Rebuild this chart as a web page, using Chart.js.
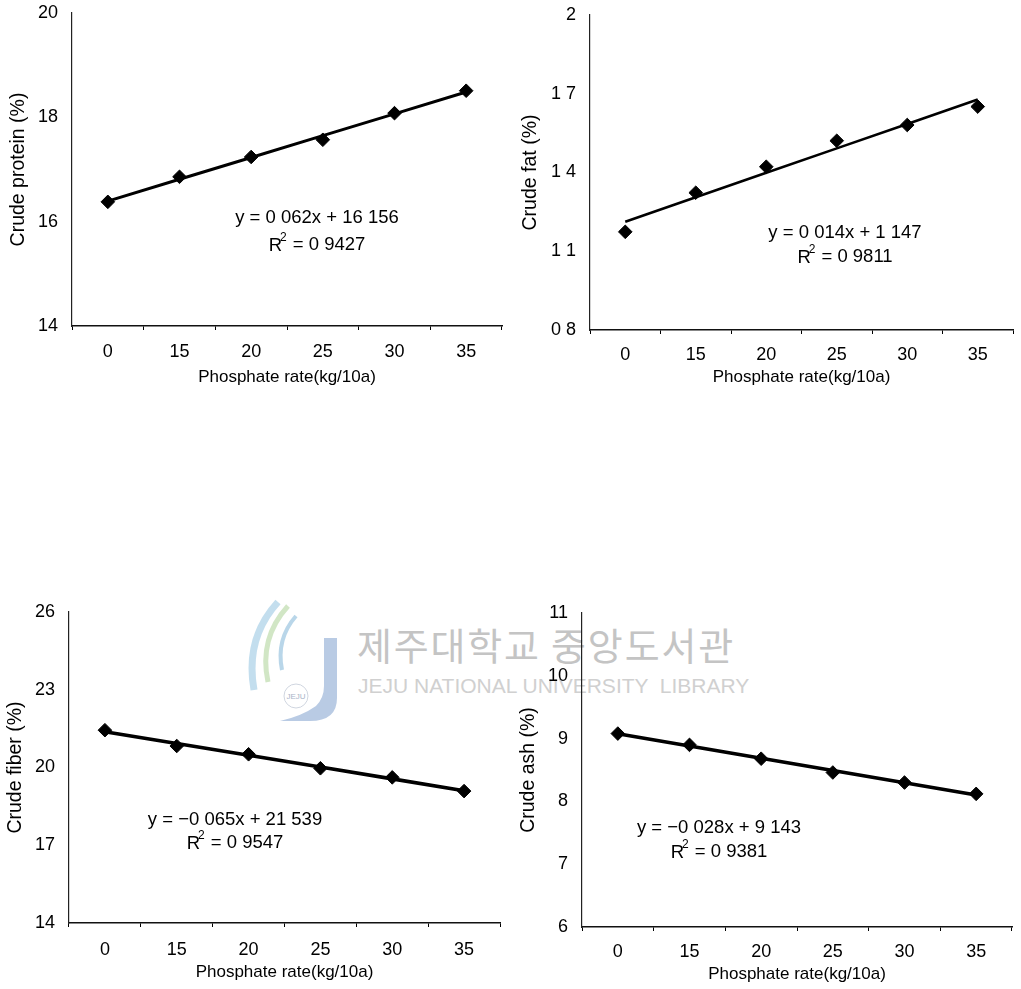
<!DOCTYPE html>
<html>
<head>
<meta charset="utf-8">
<script src="https://cdn.jsdelivr.net/npm/chart.js@4.4.0/dist/chart.umd.min.js"></script>
<style>
  body { margin: 0; background: #fff; width: 1021px; height: 989px; position: relative; overflow: hidden; }
  .panel { position: absolute; z-index: 2; }
  .wm-ko { position: absolute; left: 357px; top: 625px; font-family: "Noto Sans CJK KR", sans-serif; font-size: 38px; line-height: 38px; color: #c4c4c4; letter-spacing: 1.8px; white-space: nowrap; z-index: 1; }
  .wm-en { position: absolute; left: 358px; top: 674px; font-family: "Liberation Sans", Arial, sans-serif; font-size: 21px; line-height: 24px; color: #d0d0d0; white-space: pre; z-index: 1; }
  .wm-logo { position: absolute; left: 240px; top: 598px; z-index: 1; }
</style>
</head>
<body>

<svg class="wm-logo" width="100" height="125">
  <path d="M38 4 C 16 28, 8 58, 14 92" stroke="#b4d6ea" stroke-width="7" fill="none" opacity="0.8"/>
  <path d="M48 8 C 28 30, 22 56, 28 84" stroke="#c6e0b6" stroke-width="5" fill="none" opacity="0.8"/>
  <path d="M56 18 C 42 34, 38 52, 42 72" stroke="#a8cce4" stroke-width="4" fill="none" opacity="0.8"/>
  <path d="M84 40 L 97 40 L 97 100 Q 97 123 70 123 L 40 123 Q 62 118 76 108 Q 84 100 84 88 Z" fill="#b9cbe4"/>
  <circle cx="56" cy="98" r="12" fill="none" stroke="#d0d6e0" stroke-width="1"/>
  <text x="56" y="101" font-size="8" font-family="Liberation Sans" fill="#a9b4c8" text-anchor="middle">JEJU</text>
</svg>
<div class="wm-ko">제주대학교 중앙도서관</div>
<div class="wm-en">JEJU NATIONAL UNIVERSITY  LIBRARY</div>

<canvas id="c1" class="panel" style="left:0px;top:0px" width="510" height="400"></canvas>
<canvas id="c2" class="panel" style="left:510px;top:0px" width="511" height="400"></canvas>
<canvas id="c3" class="panel" style="left:0px;top:590px" width="510" height="399"></canvas>
<canvas id="c4" class="panel" style="left:510px;top:590px" width="511" height="399"></canvas>

<script>
// phosphate rates (kg/10a)
const rates = ['0', '15', '20', '25', '30', '35'];

// values
const proteinValues = [16.38, 16.86, 17.24, 17.57, 18.08, 18.51];
const fatValues = [1.174, 1.323, 1.422, 1.521, 1.581, 1.651];
const fiberValues = [21.44, 20.83, 20.51, 19.97, 19.62, 19.09];
const ashValues = [9.08, 8.90, 8.68, 8.46, 8.30, 8.12];

// y ticks and how they are printed in the figure
const proteinTicks = [14, 16, 18, 20];
const proteinTickLabels = ['14', '16', '18', '20'];
const fatTicks = [0.8, 1.1, 1.4, 1.7, 2.0];
const fatTickLabels = ['0 8', '1 1', '1 4', '1 7', '2'];
const fiberTicks = [14, 17, 20, 23, 26];
const fiberTickLabels = ['14', '17', '20', '23', '26'];
const ashTicks = [6, 7, 8, 9, 10, 11];
const ashTickLabels = ['6', '7', '8', '9', '10', '11'];

// trendline labels
const proteinEq = ['y = 0 062x + 16 156', '= 0 9427'];
const fatEq = ['y = 0 014x + 1 147', '= 0 9811'];
const fiberEq = ['y = \u22120 065x + 21 539', '= 0 9547'];
const ashEq = ['y = \u22120 028x + 9 143', '= 0 9381'];

const FONT = '"Liberation Sans", Arial, sans-serif';

// least squares line through the points (index as x, like the spreadsheet trendline)
function linearFit(vals) {
  const n = vals.length;
  let sx = 0, sy = 0, sxy = 0, sxx = 0;
  vals.forEach((v, i) => { sx += i; sy += v; sxy += i * v; sxx += i * i; });
  const b = (n * sxy - sx * sy) / (n * sxx - sx * sx);
  const a = (sy - b * sx) / n;
  return vals.map((v, i) => a + b * i);
}

const eqPlugin = {
  id: 'eqText',
  afterDraw(chart, args, opts) {
    const ctx = chart.ctx;
    ctx.save();
    ctx.fillStyle = '#000';
    ctx.font = '18.5px ' + FONT;
    ctx.textBaseline = 'middle';
    ctx.textAlign = 'center';
    ctx.fillText(opts.lines[0], opts.x, opts.y1);
    // R² line
    const rest = opts.lines[1];
    ctx.textAlign = 'left';
    const wR = ctx.measureText('R').width;
    const wRest = ctx.measureText(rest).width;
    ctx.font = '12px ' + FONT;
    const wSup = ctx.measureText('2').width;
    const total = wR + wSup + 4 + wRest;
    let x = opts.x - total / 2;
    ctx.font = '18.5px ' + FONT;
    ctx.fillText('R', x, opts.y2 + 1);
    ctx.font = '12px ' + FONT;
    ctx.fillText('2', x + wR - 2, opts.y2 - 7);
    ctx.font = '18.5px ' + FONT;
    ctx.fillText(rest, x + wR + wSup + 4, opts.y2);
    ctx.restore();
  }
};

function makePanel(id, values, ticks, tickLabels, yTitle, eq, lay) {
  const fit = linearFit(values);
  new Chart(document.getElementById(id), {
    type: 'line',
    data: {
      labels: rates,
      datasets: [
        {
          data: values,
          showLine: false,
          pointStyle: 'rectRot',
          pointRadius: 6.8,
          pointBackgroundColor: '#000',
          pointBorderColor: '#000',
          pointBorderWidth: 1
        },
        {
          data: fit,
          borderColor: '#000',
          borderWidth: lay.lw,
          pointRadius: 0,
          fill: false,
          tension: 0
        }
      ]
    },
    options: {
      responsive: false,
      animation: false,
      events: [],
      layout: { padding: { left: lay.padL, right: lay.padR, top: lay.padT, bottom: lay.padB } },
      plugins: {
        legend: { display: false },
        tooltip: { enabled: false },
        eqText: eq
      },
      scales: {
        x: {
          type: 'category',
          offset: true,
          grid: { display: true, drawOnChartArea: false, drawTicks: true, tickLength: 4, color: '#000', lineWidth: 1, offset: true },
          border: { display: true, color: '#111', width: 1.4 },
          ticks: { color: '#000', font: { family: FONT, size: 18 }, padding: lay.xPad, maxRotation: 0 },
          title: { display: true, text: 'Phosphate rate(kg/10a)', color: '#000', font: { family: FONT, size: 17 }, padding: 0 },
          afterFit: s => { s.height = lay.xH; }
        },
        y: {
          min: ticks[0],
          max: ticks[ticks.length - 1],
          afterBuildTicks: s => { s.ticks = ticks.map(v => ({ value: v })); },
          grid: { display: true, drawOnChartArea: false, drawTicks: false },
          border: { display: true, color: '#222', width: 1.2 },
          ticks: {
            color: '#000',
            font: { family: FONT, size: 18 },
            padding: 14,
            callback: (v) => {
              const k = ticks.findIndex(t => Math.abs(t - v) < 1e-6);
              return k >= 0 ? tickLabels[k] : '';
            }
          },
          title: { display: true, text: yTitle, color: '#000', font: { family: FONT, size: 19.5 }, padding: 0 },
          afterFit: s => { s.width = lay.yW; s.paddingTop = 0; s.paddingBottom = 0; }
        }
      }
    },
    plugins: [eqPlugin]
  });
}

makePanel('c1', proteinValues, proteinTicks, proteinTickLabels, 'Crude protein (%)',
  { lines: proteinEq, x: 317, y1: 218, y2: 245 },
  { padL: 7, padR: 8, padT: 13, padB: 12, yW: 65, xH: 62, xPad: 11, lw: 3 });

makePanel('c2', fatValues, fatTicks, fatTickLabels, 'Crude fat (%)',
  { lines: fatEq, x: 335, y1: 233, y2: 257 },
  { padL: 9, padR: 8, padT: 15, padB: 12, yW: 71, xH: 58, xPad: 10, lw: 2.6 });

makePanel('c3', fiberValues, fiberTicks, fiberTickLabels, 'Crude fiber (%)',
  { lines: fiberEq, x: 235, y1: 230, y2: 253 },
  { padL: 4, padR: 10, padT: 22, padB: 6, yW: 65, xH: 60, xPad: 12, lw: 3.6 });

makePanel('c4', ashValues, ashTicks, ashTickLabels, 'Crude ash (%)',
  { lines: ashEq, x: 209, y1: 238, y2: 262 },
  { padL: 7, padR: 9, padT: 23, padB: 4, yW: 65, xH: 58, xPad: 10, lw: 3.6 });
</script>
</body>
</html>
